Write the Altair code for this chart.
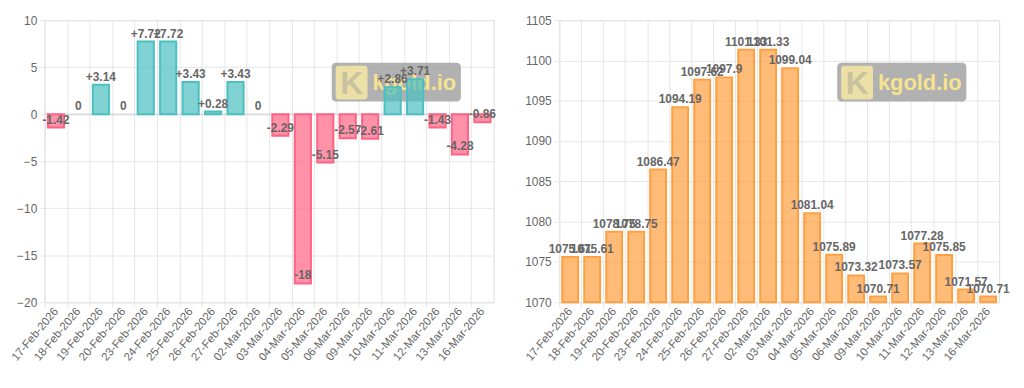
import altair as alt
import pandas as pd

dates = ["17-Feb-2026", "18-Feb-2026", "19-Feb-2026", "20-Feb-2026", "23-Feb-2026",
         "24-Feb-2026", "25-Feb-2026", "26-Feb-2026", "27-Feb-2026", "02-Mar-2026",
         "03-Mar-2026", "04-Mar-2026", "05-Mar-2026", "06-Mar-2026", "09-Mar-2026",
         "10-Mar-2026", "11-Mar-2026", "12-Mar-2026", "13-Mar-2026", "16-Mar-2026"]
changes = [-1.42, 0, 3.14, 0, 7.72, 7.72, 3.43, 0.28, 3.43, 0,
           -2.29, -18, -5.15, -2.57, -2.61, 2.86, 3.71, -1.43, -4.28, -0.86]
prices = [1075.61, 1075.61, 1078.75, 1078.75, 1086.47, 1094.19, 1097.62, 1097.9, 1101.33, 1101.33,
          1099.04, 1081.04, 1075.89, 1073.32, 1070.71, 1073.57, 1077.28, 1075.85, 1071.57, 1070.71]
change_ticks = [-20, -15, -10, -5, 0, 5, 10]
price_ticks = [1070, 1075, 1080, 1085, 1090, 1095, 1100, 1105]


def fmt_change(v):
    return "0" if v == 0 else f"{v:+g}"


df_c = pd.DataFrame({"date": dates, "change": changes,
                     "label": [fmt_change(v) for v in changes]})
df_p = pd.DataFrame({"date": dates, "price": prices,
                     "label": [f"{v:g}" for v in prices]})

FONT = "Liberation Sans"
GRID = "#e6e6e6"
LABEL = "#666666"
H = 284
W1 = 452
W2 = 443
N = len(dates)


def x_enc(width):
    step = width / N
    return alt.X("date:N", sort=dates, title=None,
                 scale=alt.Scale(paddingInner=0.28, paddingOuter=0.14),
                 axis=alt.Axis(labelAngle=310, labelAlign="right", labelBaseline="middle",
                               grid=True, gridColor=GRID, tickColor=GRID, tickSize=5,
                               domainColor=GRID, labelColor=LABEL, labelFont=FONT,
                               labelFontSize=11.5, bandPosition=0.5,
                               tickOffset=-step / 2, labelOffset=step / 2, labelPadding=2))


def y_axis(vals):
    return alt.Axis(values=vals, format="d", grid=True, gridColor=GRID, tickColor=GRID,
                    tickSize=5, domainColor=GRID, labelColor=LABEL, labelFont=FONT,
                    labelFontSize=12, labelPadding=3, title=None)


def watermark(width):
    one = pd.DataFrame({"a": [0]})
    x0 = width - 33 - 130
    box = alt.Chart(one).mark_rect(cornerRadius=4, color="#a9a9a9", opacity=0.9).encode(
        x=alt.value(x0), x2=alt.value(x0 + 130), y=alt.value(43), y2=alt.value(82))
    logo = alt.Chart(one).mark_rect(cornerRadius=3, color="#f4e6a6", opacity=0.9).encode(
        x=alt.value(x0 + 4), x2=alt.value(x0 + 36), y=alt.value(46), y2=alt.value(80))
    k = alt.Chart(one).mark_text(text="K", font=FONT, fontSize=32, fontWeight="bold",
                                 color="#c9c2a0", baseline="middle").encode(
        x=alt.value(x0 + 20), y=alt.value(64))
    txt = alt.Chart(one).mark_text(text="kgold.io", font=FONT, fontSize=22, fontWeight="bold",
                                   color="#f5e38f", align="left", baseline="middle").encode(
        x=alt.value(x0 + 41), y=alt.value(63))
    return box + logo + k + txt


teal = "rgb(75,192,192)"
pink = "rgb(255,99,132)"
orange = "rgb(255,159,64)"

base_c = alt.Chart(df_c)
bars_c = base_c.transform_filter("datum.change != 0").mark_bar(
    fillOpacity=0.7, strokeWidth=2).encode(
    x=x_enc(W1),
    y=alt.Y("change:Q", scale=alt.Scale(domain=[-20, 10], nice=False), axis=y_axis(change_ticks)),
    fill=alt.condition("datum.change >= 0", alt.value(teal), alt.value(pink)),
    stroke=alt.condition("datum.change >= 0", alt.value(teal), alt.value(pink)),
)
zero = alt.Chart(pd.DataFrame({"z": [0]})).mark_rule(color="#cfcfcf", strokeWidth=1).encode(
    y="z:Q")
text_c = base_c.mark_text(baseline="bottom", dy=-1, font=FONT, fontSize=12,
                          fontWeight="bold", color=LABEL).encode(
    x=alt.X("date:N", sort=dates), y="change:Q", text="label:N")
left = alt.layer(watermark(W1), zero, bars_c, text_c).properties(width=W1, height=H)

base_p = alt.Chart(df_p)
bars_p = base_p.mark_bar(fillOpacity=0.7, strokeWidth=2, fill=orange, stroke=orange).encode(
    x=x_enc(W2),
    y=alt.Y("price:Q", scale=alt.Scale(domain=[1070, 1105], nice=False, zero=False),
            axis=y_axis(price_ticks)),
    y2=alt.datum(1070),
)
text_p = base_p.mark_text(baseline="bottom", dy=-1, font=FONT, fontSize=12,
                          fontWeight="bold", color=LABEL).encode(
    x=alt.X("date:N", sort=dates), y="price:Q", text="label:N")
right = alt.layer(watermark(W2), bars_p, text_p).properties(width=W2, height=H)

chart = alt.hconcat(left, right, spacing=26).configure_view(stroke=None).configure(
    font=FONT).properties(padding={"left": 0, "top": 4, "right": 5, "bottom": 0})

chart.save("out.html", embed_options={"renderer": "svg", "actions": False})
